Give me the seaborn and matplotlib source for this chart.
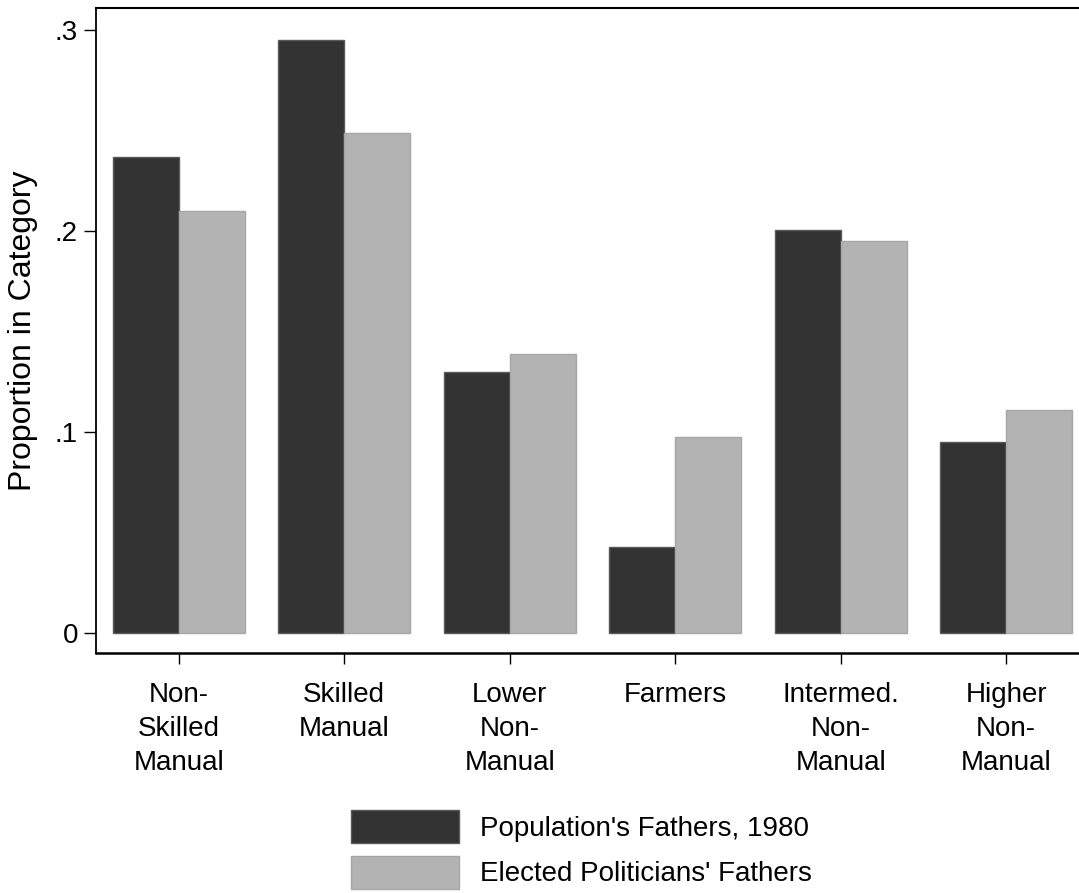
import pandas as pd
import numpy as np
import seaborn as sns
import matplotlib.pyplot as plt
from matplotlib.patches import Patch

# values
categories = ["Non-\nSkilled\nManual", "Skilled\nManual", "Lower\nNon-\nManual",
              "Farmers", "Intermed.\nNon-\nManual", "Higher\nNon-\nManual"]
population = [0.237, 0.295, 0.130, 0.043, 0.2005, 0.095]
politicians = [0.210, 0.249, 0.139, 0.0975, 0.195, 0.111]
series = ["Population's Fathers, 1980", "Elected Politicians' Fathers"]

df = pd.DataFrame({
    "category": categories * 2,
    "value": population + politicians,
    "group": [series[0]] * len(categories) + [series[1]] * len(categories),
})

sns.set_style("white")
plt.rcParams["font.family"] = ["Liberation Sans", "DejaVu Sans"]
plt.rcParams["font.size"] = 20
for key in ["text.color", "axes.labelcolor", "xtick.color", "ytick.color"]:
    plt.rcParams[key] = "black"

fig = plt.figure(figsize=(10.79, 8.93), dpi=100)
ax = fig.add_axes([96 / 1079, 240 / 893, 993 / 1079, 645 / 893])

sns.barplot(data=df, x="category", y="value", hue="group", order=categories,
            hue_order=series, palette=["#333333", "#b3b3b3"], width=0.8,
            saturation=1, ax=ax, legend=False)

for bar, ec in zip(ax.patches, ["#5a5a5a"] * 6 + ["#a6a6a6"] * 6):
    bar.set_edgecolor(ec)
    bar.set_linewidth(1)

ax.set_xlim(-0.5, 5.5)
ax.set_ylim(-0.0099, 0.311)
ax.set_yticks([0, 0.1, 0.2, 0.3])
ax.set_yticklabels(["0", ".1", ".2", ".3"])
ax.set_xlabel("")
ax.set_ylabel("Proportion in Category", fontsize=23, labelpad=12)

ax.tick_params(axis="y", direction="out", length=9, width=1, pad=4, left=True, labelsize=20)
ax.tick_params(axis="x", direction="out", length=8, width=1, pad=13, bottom=True, labelsize=20)
for lab in ax.get_xticklabels():
    lab.set_linespacing(1.39)

ax.spines["right"].set_visible(False)
for side in ["left", "bottom", "top"]:
    ax.spines[side].set_color("black")
ax.spines["left"].set_linewidth(1.3)
ax.spines["bottom"].set_linewidth(1.8)
ax.spines["top"].set_linewidth(1.5)

handles = [Patch(facecolor="#333333", edgecolor="#5a5a5a"),
           Patch(facecolor="#b3b3b3", edgecolor="#a6a6a6")]
fig.legend(handles, series, loc="upper left", bbox_to_anchor=(351 / 1079, 1 - 810 / 893),
           frameon=False, fontsize=20, handlelength=3.9, handleheight=1.46,
           borderpad=0, borderaxespad=0, labelspacing=0.45, handletextpad=0.75)

fig.savefig("out.png", dpi=100)
